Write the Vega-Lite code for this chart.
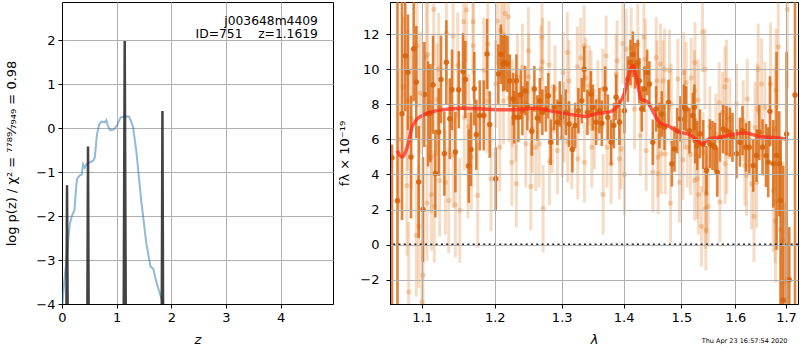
{
  "$schema": "https://vega.github.io/schema/vega-lite/v6.json",
  "background": "white",
  "padding": {"left": 5, "top": 1, "right": 1, "bottom": 0},
  "spacing": 4,
  "title": {"text": "Thu Apr 23 16:57:54 2020", "orient": "bottom", "anchor": "end", "fontSize": 6.5, "fontWeight": "normal", "font": "DejaVu Sans", "color": "black", "offset": -9, "dx": -12},
  "config": {
    "font": "DejaVu Sans",
    "view": {"stroke": "black", "strokeWidth": 1},
    "axis": {"grid": true, "gridColor": "#b0b0b0", "gridWidth": 1, "domainColor": "black", "tickColor": "black", "tickSize": 4, "tickWidth": 1, "labelFontSize": 13, "labelColor": "black", "labelFont": "DejaVu Sans", "labelPadding": 3, "titleFontSize": 13, "titleFontWeight": "normal", "titleColor": "black", "titleFont": "DejaVu Sans", "labelFlush": false, "labelOverlap": false}
  },
  "datasets": {
    "pz": [
      {"z": 0.0, "p": -4.1}, {"z": 0.007, "p": -4.0}, {"z": 0.04, "p": -3.5}, {"z": 0.08, "p": -3.02}, {"z": 0.11, "p": -2.6}, {"z": 0.14, "p": -2.2}, {"z": 0.18, "p": -2.0}, {"z": 0.23, "p": -1.86}, {"z": 0.255, "p": -1.4}, {"z": 0.275, "p": -1.16}, {"z": 0.32, "p": -1.08}, {"z": 0.36, "p": -1.06}, {"z": 0.385, "p": -0.82}, {"z": 0.415, "p": -0.9}, {"z": 0.447, "p": -0.82}, {"z": 0.507, "p": -0.78}, {"z": 0.57, "p": -0.74}, {"z": 0.6, "p": -0.67}, {"z": 0.64, "p": -0.14}, {"z": 0.68, "p": 0.08}, {"z": 0.72, "p": 0.15}, {"z": 0.78, "p": 0.13}, {"z": 0.81, "p": 0.18}, {"z": 0.84, "p": 0.05}, {"z": 0.886, "p": -0.05}, {"z": 0.95, "p": -0.03}, {"z": 1.01, "p": 0.07}, {"z": 1.07, "p": 0.24}, {"z": 1.15, "p": 0.27}, {"z": 1.23, "p": 0.26}, {"z": 1.3, "p": 0.03}, {"z": 1.36, "p": -0.52}, {"z": 1.45, "p": -1.65}, {"z": 1.545, "p": -2.64}, {"z": 1.62, "p": -3.15}, {"z": 1.67, "p": -3.2}, {"z": 1.73, "p": -3.51}, {"z": 1.85, "p": -4.0}, {"z": 1.9, "p": -4.3}
    ],
    "spikes": [
      {"z": 0.0, "p": -4.6}, {"z": 0.079, "p": -4.6}, {"z": 0.092, "p": -1.3}, {"z": 0.105, "p": -4.6}, {"z": 0.463, "p": -4.6}, {"z": 0.476, "p": -0.42}, {"z": 0.489, "p": -4.6}, {"z": 1.128, "p": -4.6}, {"z": 1.148, "p": 1.98}, {"z": 1.168, "p": -4.6}, {"z": 1.825, "p": -4.6}, {"z": 1.838, "p": 0.39}, {"z": 1.851, "p": -4.6}, {"z": 4.96, "p": -4.6}
    ],
    "model": [
      {"l": 1.0679, "f": 5.35}, {"l": 1.0740, "f": 4.99}, {"l": 1.0808, "f": 5.56}, {"l": 1.0870, "f": 6.70}, {"l": 1.0935, "f": 7.16}, {"l": 1.1000, "f": 7.35}, {"l": 1.1106, "f": 7.54}, {"l": 1.1270, "f": 7.69}, {"l": 1.1544, "f": 7.78}, {"l": 1.1965, "f": 7.71}, {"l": 1.2255, "f": 7.69}, {"l": 1.2603, "f": 7.78}, {"l": 1.2856, "f": 7.60}, {"l": 1.3167, "f": 7.41}, {"l": 1.3380, "f": 7.31}, {"l": 1.3541, "f": 7.46}, {"l": 1.3758, "f": 7.56}, {"l": 1.3924, "f": 8.03}, {"l": 1.4008, "f": 8.6}, {"l": 1.4092, "f": 9.74}, {"l": 1.4148, "f": 10.2}, {"l": 1.4222, "f": 9.46}, {"l": 1.4290, "f": 8.32}, {"l": 1.4404, "f": 8.13}, {"l": 1.4490, "f": 7.65}, {"l": 1.4607, "f": 6.99}, {"l": 1.4783, "f": 6.74}, {"l": 1.4961, "f": 6.42}, {"l": 1.5141, "f": 6.28}, {"l": 1.5292, "f": 5.94}, {"l": 1.5384, "f": 5.72}, {"l": 1.5507, "f": 6.04}, {"l": 1.5694, "f": 6.10}, {"l": 1.5946, "f": 6.28}, {"l": 1.6204, "f": 6.36}, {"l": 1.6464, "f": 6.17}, {"l": 1.6796, "f": 6.10}, {"l": 1.7032, "f": 6.02}
    ],
    "dark": [
      {"l": 1.0612, "f": 4.95, "lo": -5, "hi": 5.7}, {"l": 1.0682, "f": 2.5, "lo": -5, "hi": 15}, {"l": 1.0740, "f": 7.46, "lo": 1.4, "hi": 15}, {"l": 1.0782, "f": 10.77, "lo": 7.6, "hi": 14.2}, {"l": 1.0817, "f": 9.83, "lo": 6.53, "hi": 13.13}, {"l": 1.0856, "f": 5.0, "lo": 1.5, "hi": 8.5}, {"l": 1.0891, "f": 11.17, "lo": 8.17, "hi": 14.17}, {"l": 1.0925, "f": 9.27, "lo": 6.07, "hi": 12.47}, {"l": 1.0957, "f": 3.57, "lo": 0.37, "hi": 6.77}, {"l": 1.1013, "f": 2.0, "lo": -1.0, "hi": 5.0},
      {"l": 1.1031, "f": 8.56, "lo": 5.56, "hi": 11.56}, {"l": 1.1080, "f": 7.46, "lo": 4.46, "hi": 10.46}, {"l": 1.1111, "f": 7.5, "lo": 4.7, "hi": 10.3}, {"l": 1.1146, "f": 9.12, "lo": 6.32, "hi": 11.92}, {"l": 1.1177, "f": 4.05, "lo": 1.55, "hi": 6.55}, {"l": 1.1222, "f": 6.42, "lo": 3.92, "hi": 8.92}, {"l": 1.1253, "f": 9.42, "lo": 6.92, "hi": 11.92}, {"l": 1.1298, "f": 5.19, "lo": 2.79, "hi": 7.59}, {"l": 1.1325, "f": 10.4, "lo": 8.0, "hi": 12.8}, {"l": 1.1371, "f": 7.18, "lo": 4.88, "hi": 9.48},
      {"l": 1.1402, "f": 8.83, "lo": 6.53, "hi": 11.13}, {"l": 1.1448, "f": 5.28, "lo": 2.98, "hi": 7.58}, {"l": 1.1494, "f": 8.83, "lo": 6.63, "hi": 11.03}, {"l": 1.1553, "f": 9.87, "lo": 7.67, "hi": 12.07}, {"l": 1.1585, "f": 9.42, "lo": 7.22, "hi": 11.62}, {"l": 1.1632, "f": 4.48, "lo": 2.38, "hi": 6.58}, {"l": 1.1664, "f": 5.43, "lo": 3.33, "hi": 7.53}, {"l": 1.1710, "f": 8.89, "lo": 6.79, "hi": 10.99}, {"l": 1.1738, "f": 6.27, "lo": 4.27, "hi": 8.27}, {"l": 1.1786, "f": 7.37, "lo": 5.37, "hi": 9.37},
      {"l": 1.1843, "f": 7.37, "lo": 5.37, "hi": 9.37}, {"l": 1.1890, "f": 10.88, "lo": 8.88, "hi": 12.88}, {"l": 1.1928, "f": 6.85, "lo": 4.95, "hi": 8.75}, {"l": 1.2014, "f": 3.75, "lo": 1.95, "hi": 5.55}, {"l": 1.2052, "f": 9.73, "lo": 8.03, "hi": 11.43}, {"l": 1.2087, "f": 10.86, "lo": 9.16, "hi": 12.56}, {"l": 1.2120, "f": 10.33, "lo": 8.73, "hi": 11.93}, {"l": 1.2149, "f": 10.39, "lo": 8.79, "hi": 11.99}, {"l": 1.2183, "f": 10.3, "lo": 8.7, "hi": 11.9}, {"l": 1.2217, "f": 9.35, "lo": 7.85, "hi": 10.85},
      {"l": 1.2266, "f": 8.3, "lo": 6.8, "hi": 9.8}, {"l": 1.2281, "f": 7.26, "lo": 5.76, "hi": 8.76}, {"l": 1.2314, "f": 9.35, "lo": 7.85, "hi": 10.85}, {"l": 1.2344, "f": 7.26, "lo": 5.86, "hi": 8.66}, {"l": 1.2379, "f": 8.55, "lo": 7.15, "hi": 9.95}, {"l": 1.2403, "f": 7.64, "lo": 6.24, "hi": 9.04}, {"l": 1.2443, "f": 8.78, "lo": 7.38, "hi": 10.18}, {"l": 1.2477, "f": 7.92, "lo": 6.52, "hi": 9.32}, {"l": 1.2543, "f": 6.47, "lo": 5.07, "hi": 7.87}, {"l": 1.2582, "f": 8.88, "lo": 7.58, "hi": 10.18},
      {"l": 1.2627, "f": 7.22, "lo": 5.92, "hi": 8.52}, {"l": 1.2664, "f": 8.21, "lo": 6.91, "hi": 9.51}, {"l": 1.2703, "f": 7.55, "lo": 6.25, "hi": 8.85}, {"l": 1.2755, "f": 7.74, "lo": 6.44, "hi": 9.04}, {"l": 1.2794, "f": 8.49, "lo": 7.19, "hi": 9.79}, {"l": 1.2831, "f": 5.84, "lo": 4.54, "hi": 7.14}, {"l": 1.2882, "f": 7.83, "lo": 6.53, "hi": 9.13}, {"l": 1.2933, "f": 6.98, "lo": 5.68, "hi": 8.28}, {"l": 1.2970, "f": 8.02, "lo": 6.72, "hi": 9.32}, {"l": 1.3001, "f": 7.26, "lo": 5.96, "hi": 8.56},
      {"l": 1.3064, "f": 7.55, "lo": 6.25, "hi": 8.85}, {"l": 1.3115, "f": 6.88, "lo": 5.58, "hi": 8.18}, {"l": 1.3167, "f": 5.42, "lo": 4.12, "hi": 6.72}, {"l": 1.3210, "f": 6.79, "lo": 5.49, "hi": 8.09}, {"l": 1.3262, "f": 7.64, "lo": 6.34, "hi": 8.94}, {"l": 1.3316, "f": 8.21, "lo": 6.91, "hi": 9.51}, {"l": 1.3353, "f": 10.01, "lo": 8.71, "hi": 11.31}, {"l": 1.3406, "f": 7.55, "lo": 6.25, "hi": 8.85}, {"l": 1.3461, "f": 8.59, "lo": 7.29, "hi": 9.89}, {"l": 1.3493, "f": 7.83, "lo": 6.53, "hi": 9.13},
      {"l": 1.3546, "f": 6.98, "lo": 5.68, "hi": 8.28}, {"l": 1.3600, "f": 7.64, "lo": 6.34, "hi": 8.94}, {"l": 1.3639, "f": 6.92, "lo": 5.62, "hi": 8.22}, {"l": 1.3693, "f": 8.87, "lo": 7.57, "hi": 10.17}, {"l": 1.3737, "f": 7.26, "lo": 5.96, "hi": 8.56}, {"l": 1.3791, "f": 5.84, "lo": 4.54, "hi": 7.14}, {"l": 1.3836, "f": 6.79, "lo": 5.49, "hi": 8.09}, {"l": 1.3874, "f": 8.4, "lo": 7.1, "hi": 9.7}, {"l": 1.3929, "f": 6.98, "lo": 5.68, "hi": 8.28}, {"l": 1.4013, "f": 7.64, "lo": 6.34, "hi": 8.94},
      {"l": 1.4070, "f": 9.44, "lo": 8.14, "hi": 10.74}, {"l": 1.4114, "f": 10.39, "lo": 9.09, "hi": 11.69}, {"l": 1.4155, "f": 10.86, "lo": 9.56, "hi": 12.16}, {"l": 1.4193, "f": 10.2, "lo": 8.9, "hi": 11.5}, {"l": 1.4239, "f": 10.39, "lo": 9.09, "hi": 11.69}, {"l": 1.4266, "f": 9.35, "lo": 8.05, "hi": 10.65}, {"l": 1.4307, "f": 7.74, "lo": 6.44, "hi": 9.04}, {"l": 1.4352, "f": 8.87, "lo": 7.57, "hi": 10.17}, {"l": 1.4399, "f": 9.82, "lo": 8.52, "hi": 11.12}, {"l": 1.4438, "f": 9.16, "lo": 7.86, "hi": 10.46},
      {"l": 1.4497, "f": 5.84, "lo": 4.54, "hi": 7.14}, {"l": 1.4555, "f": 7.74, "lo": 6.44, "hi": 9.04}, {"l": 1.4612, "f": 6.79, "lo": 5.49, "hi": 8.09}, {"l": 1.4654, "f": 7.45, "lo": 6.15, "hi": 8.75}, {"l": 1.4700, "f": 6.69, "lo": 5.39, "hi": 7.99}, {"l": 1.4771, "f": 8.11, "lo": 6.81, "hi": 9.41}, {"l": 1.4831, "f": 4.61, "lo": 3.31, "hi": 5.91}, {"l": 1.4877, "f": 5.46, "lo": 4.16, "hi": 6.76}, {"l": 1.4925, "f": 6.5, "lo": 5.2, "hi": 7.8}, {"l": 1.4984, "f": 7.17, "lo": 5.87, "hi": 8.47},
      {"l": 1.5045, "f": 7.83, "lo": 6.53, "hi": 9.13}, {"l": 1.5087, "f": 7.74, "lo": 6.44, "hi": 9.04}, {"l": 1.5146, "f": 6.5, "lo": 5.2, "hi": 7.8}, {"l": 1.5208, "f": 7.36, "lo": 6.06, "hi": 8.66}, {"l": 1.5236, "f": 7.83, "lo": 6.53, "hi": 9.13}, {"l": 1.5250, "f": 5.93, "lo": 4.63, "hi": 7.23}, {"l": 1.5287, "f": 5.65, "lo": 4.25, "hi": 7.05}, {"l": 1.5336, "f": 6.32, "lo": 4.92, "hi": 7.72}, {"l": 1.5397, "f": 5.71, "lo": 4.31, "hi": 7.11}, {"l": 1.5457, "f": 4.23, "lo": 2.83, "hi": 5.63},
      {"l": 1.5520, "f": 5.75, "lo": 4.35, "hi": 7.15}, {"l": 1.5569, "f": 5.65, "lo": 4.25, "hi": 7.05}, {"l": 1.5614, "f": 5.55, "lo": 4.15, "hi": 6.95}, {"l": 1.5657, "f": 4.13, "lo": 2.73, "hi": 5.53}, {"l": 1.5707, "f": 6.12, "lo": 4.72, "hi": 7.52}, {"l": 1.5770, "f": 6.6, "lo": 5.2, "hi": 8.0}, {"l": 1.5832, "f": 6.5, "lo": 5.1, "hi": 7.9}, {"l": 1.5896, "f": 6.41, "lo": 5.01, "hi": 7.81}, {"l": 1.5946, "f": 6.12, "lo": 4.72, "hi": 7.52}, {"l": 1.6022, "f": 5.18, "lo": 3.78, "hi": 6.58},
      {"l": 1.6088, "f": 5.84, "lo": 4.44, "hi": 7.24}, {"l": 1.6138, "f": 6.5, "lo": 5.1, "hi": 7.9}, {"l": 1.6204, "f": 5.55, "lo": 4.15, "hi": 6.95}, {"l": 1.6268, "f": 5.55, "lo": 4.05, "hi": 7.05}, {"l": 1.6346, "f": 4.51, "lo": 3.01, "hi": 6.01}, {"l": 1.6411, "f": 5.08, "lo": 3.58, "hi": 6.58}, {"l": 1.6464, "f": 6.41, "lo": 4.81, "hi": 8.01}, {"l": 1.6529, "f": 5.55, "lo": 3.95, "hi": 7.15}, {"l": 1.6597, "f": 5.08, "lo": 3.28, "hi": 6.88}, {"l": 1.6642, "f": 4.7, "lo": 2.7, "hi": 6.7},
      {"l": 1.6676, "f": 7.6, "lo": 5.6, "hi": 9.6}, {"l": 1.6743, "f": 4.61, "lo": 2.11, "hi": 7.11}, {"l": 1.6809, "f": 5.08, "lo": -0.3, "hi": 11}, {"l": 1.6863, "f": 4.61, "lo": 1.61, "hi": 7.61}, {"l": 1.6890, "f": 2.52, "lo": -4, "hi": 6}, {"l": 1.6944, "f": -3.17, "lo": -6, "hi": 4.5}, {"l": 1.7011, "f": 6.31, "lo": -4, "hi": 11}, {"l": 1.7066, "f": -2, "lo": -5, "hi": 1.0}, {"l": 1.7183, "f": 8.53, "lo": -5, "hi": 15}
    ],
    "light": [
      {"l": 1.0701, "f": 6.0, "lo": 2, "hi": 10}, {"l": 1.0753, "f": 9.0, "lo": 5, "hi": 13}, {"l": 1.0804, "f": 3.37, "lo": -0.63, "hi": 7.37}, {"l": 1.0813, "f": 8.21, "lo": 4.21, "hi": 12.21}, {"l": 1.0826, "f": -2.71, "lo": -6.71, "hi": 1.29}, {"l": 1.0862, "f": 7.2, "lo": 3.2, "hi": 11.2}, {"l": 1.0925, "f": 0.53, "lo": -2.97, "hi": 4.03}, {"l": 1.0934, "f": 11.34, "lo": 7.84, "hi": 14.84}, {"l": 1.0957, "f": 1.04, "lo": -2.46, "hi": 4.54}, {"l": 1.0979, "f": 8.65, "lo": 5.15, "hi": 12.15},
      {"l": 1.1000, "f": -3.26, "lo": -6.76, "hi": 0.24}, {"l": 1.1013, "f": -1.74, "lo": -5.24, "hi": 1.76}, {"l": 1.1057, "f": 10.7, "lo": 7.4, "hi": 14.0}, {"l": 1.1066, "f": 2.37, "lo": -0.93, "hi": 5.67}, {"l": 1.1075, "f": 10.86, "lo": 7.56, "hi": 14.16}, {"l": 1.1120, "f": 4.99, "lo": 1.79, "hi": 8.19}, {"l": 1.1125, "f": 2.86, "lo": -0.34, "hi": 6.06}, {"l": 1.1155, "f": 13.42, "lo": 10.22, "hi": 16.62}, {"l": 1.1163, "f": 2.18, "lo": -1.02, "hi": 5.38}, {"l": 1.1199, "f": 8.27, "lo": 5.07, "hi": 11.47},
      {"l": 1.1222, "f": 10.01, "lo": 6.81, "hi": 13.21}, {"l": 1.1235, "f": 3.66, "lo": 0.46, "hi": 6.86}, {"l": 1.1311, "f": 3.56, "lo": 0.56, "hi": 6.56}, {"l": 1.1325, "f": 12.1, "lo": 9.1, "hi": 15.1}, {"l": 1.1357, "f": 2.52, "lo": -0.48, "hi": 5.52}, {"l": 1.1416, "f": 11.91, "lo": 8.91, "hi": 14.91}, {"l": 1.1420, "f": 5.08, "lo": 2.08, "hi": 8.08}, {"l": 1.1448, "f": 2.27, "lo": -0.73, "hi": 5.27}, {"l": 1.1480, "f": 10.24, "lo": 7.24, "hi": 13.24}, {"l": 1.1508, "f": 1.95, "lo": -1.05, "hi": 4.95},
      {"l": 1.1563, "f": 12.72, "lo": 9.72, "hi": 15.72}, {"l": 1.1571, "f": 7.26, "lo": 4.26, "hi": 10.26}, {"l": 1.1599, "f": 13.39, "lo": 10.39, "hi": 16.39}, {"l": 1.1622, "f": 4.51, "lo": 1.51, "hi": 7.51}, {"l": 1.1632, "f": 6.73, "lo": 3.73, "hi": 9.73}, {"l": 1.1668, "f": 4.99, "lo": 1.99, "hi": 7.99}, {"l": 1.1692, "f": 12.72, "lo": 9.72, "hi": 15.72}, {"l": 1.1696, "f": 11.34, "lo": 8.34, "hi": 14.34}, {"l": 1.1758, "f": 2.81, "lo": -0.19, "hi": 5.81}, {"l": 1.1843, "f": 9.95, "lo": 6.95, "hi": 12.95},
      {"l": 1.1890, "f": 8.21, "lo": 5.21, "hi": 11.21}, {"l": 1.1900, "f": 11.43, "lo": 8.43, "hi": 14.43}, {"l": 1.1947, "f": 3.75, "lo": 0.75, "hi": 6.75}, {"l": 1.2014, "f": 9.16, "lo": 6.66, "hi": 11.66}, {"l": 1.2038, "f": 12.76, "lo": 10.26, "hi": 15.26}, {"l": 1.2072, "f": 5.55, "lo": 3.05, "hi": 8.05}, {"l": 1.2087, "f": 12.23, "lo": 9.73, "hi": 14.73}, {"l": 1.2120, "f": 12.0, "lo": 9.5, "hi": 14.5}, {"l": 1.2125, "f": 8.21, "lo": 5.71, "hi": 10.71}, {"l": 1.2149, "f": 13.18, "lo": 10.68, "hi": 15.68},
      {"l": 1.2197, "f": 12.99, "lo": 10.49, "hi": 15.49}, {"l": 1.2207, "f": 8.36, "lo": 5.86, "hi": 10.86}, {"l": 1.2247, "f": 4.7, "lo": 2.2, "hi": 7.2}, {"l": 1.2256, "f": 8.06, "lo": 5.56, "hi": 10.56}, {"l": 1.2306, "f": 7.26, "lo": 4.76, "hi": 9.76}, {"l": 1.2314, "f": 3.47, "lo": 0.97, "hi": 5.97}, {"l": 1.2329, "f": 9.54, "lo": 7.04, "hi": 12.04}, {"l": 1.2403, "f": 10.11, "lo": 7.61, "hi": 12.61}, {"l": 1.2453, "f": 5.75, "lo": 3.25, "hi": 8.25}, {"l": 1.2492, "f": 11.05, "lo": 8.55, "hi": 13.55},
      {"l": 1.2497, "f": 9.57, "lo": 7.07, "hi": 12.07}, {"l": 1.2528, "f": 3.32, "lo": 0.82, "hi": 5.82}, {"l": 1.2552, "f": 6.6, "lo": 4.1, "hi": 9.1}, {"l": 1.2603, "f": 5.55, "lo": 3.05, "hi": 8.05}, {"l": 1.2653, "f": 5.75, "lo": 3.25, "hi": 8.25}, {"l": 1.2679, "f": 10.01, "lo": 7.51, "hi": 12.51}, {"l": 1.2698, "f": 11.85, "lo": 9.35, "hi": 14.35}, {"l": 1.2706, "f": 10.43, "lo": 7.93, "hi": 12.93}, {"l": 1.2714, "f": 2.05, "lo": -0.45, "hi": 4.55}, {"l": 1.2805, "f": 10.26, "lo": 7.76, "hi": 12.76},
      {"l": 1.2812, "f": 4.76, "lo": 2.26, "hi": 7.26}, {"l": 1.2856, "f": 6.6, "lo": 4.1, "hi": 9.1}, {"l": 1.2897, "f": 8.87, "lo": 6.37, "hi": 11.37}, {"l": 1.2933, "f": 5.37, "lo": 2.87, "hi": 7.87}, {"l": 1.3011, "f": 6.12, "lo": 3.82, "hi": 8.42}, {"l": 1.3021, "f": 9.82, "lo": 7.52, "hi": 12.12}, {"l": 1.3037, "f": 6.98, "lo": 4.68, "hi": 9.28}, {"l": 1.3088, "f": 10.96, "lo": 8.66, "hi": 13.26}, {"l": 1.3094, "f": 5.84, "lo": 3.54, "hi": 8.14}, {"l": 1.3115, "f": 9.35, "lo": 7.05, "hi": 11.65},
      {"l": 1.3158, "f": 5.46, "lo": 3.16, "hi": 7.76}, {"l": 1.3246, "f": 10.14, "lo": 7.84, "hi": 12.44}, {"l": 1.3252, "f": 4.89, "lo": 2.59, "hi": 7.19}, {"l": 1.3300, "f": 10.64, "lo": 8.34, "hi": 12.94}, {"l": 1.3353, "f": 11.34, "lo": 9.04, "hi": 13.64}, {"l": 1.3358, "f": 4.7, "lo": 2.4, "hi": 7.0}, {"l": 1.3380, "f": 9.5, "lo": 7.2, "hi": 11.8}, {"l": 1.3433, "f": 9.06, "lo": 6.76, "hi": 11.36}, {"l": 1.3465, "f": 8.78, "lo": 6.48, "hi": 11.08}, {"l": 1.3477, "f": 5.55, "lo": 3.25, "hi": 7.85},
      {"l": 1.3519, "f": 6.6, "lo": 4.3, "hi": 8.9}, {"l": 1.3574, "f": 8.21, "lo": 5.91, "hi": 10.51}, {"l": 1.3655, "f": 8.87, "lo": 6.57, "hi": 11.17}, {"l": 1.3660, "f": 2.86, "lo": 0.56, "hi": 5.16}, {"l": 1.3709, "f": 10.77, "lo": 8.47, "hi": 13.07}, {"l": 1.3725, "f": 5.55, "lo": 3.25, "hi": 7.85}, {"l": 1.3791, "f": 4.61, "lo": 2.31, "hi": 6.91}, {"l": 1.3874, "f": 9.73, "lo": 7.43, "hi": 12.03}, {"l": 1.3891, "f": 10.49, "lo": 8.19, "hi": 12.79}, {"l": 1.3929, "f": 4.89, "lo": 2.59, "hi": 7.19},
      {"l": 1.3957, "f": 5.46, "lo": 3.16, "hi": 7.76}, {"l": 1.3986, "f": 11.47, "lo": 9.17, "hi": 13.77}, {"l": 1.4013, "f": 4.0, "lo": 1.7, "hi": 6.3}, {"l": 1.4041, "f": 11.15, "lo": 8.85, "hi": 13.45}, {"l": 1.4126, "f": 11.24, "lo": 8.94, "hi": 13.54}, {"l": 1.4182, "f": 7.74, "lo": 5.44, "hi": 10.04}, {"l": 1.4239, "f": 11.43, "lo": 9.13, "hi": 13.73}, {"l": 1.4283, "f": 6.22, "lo": 3.92, "hi": 8.52}, {"l": 1.4341, "f": 11.85, "lo": 9.55, "hi": 14.15}, {"l": 1.4369, "f": 10.58, "lo": 8.28, "hi": 12.88},
      {"l": 1.4381, "f": 5.37, "lo": 3.07, "hi": 7.67}, {"l": 1.4497, "f": 4.13, "lo": 1.83, "hi": 6.43}, {"l": 1.4555, "f": 10.67, "lo": 8.37, "hi": 12.97}, {"l": 1.4572, "f": 9.35, "lo": 7.05, "hi": 11.65}, {"l": 1.4584, "f": 4.99, "lo": 2.69, "hi": 7.29}, {"l": 1.4590, "f": 4.04, "lo": 1.74, "hi": 6.34}, {"l": 1.4630, "f": 10.3, "lo": 8.0, "hi": 12.6}, {"l": 1.4642, "f": 5.18, "lo": 2.88, "hi": 7.48}, {"l": 1.4672, "f": 9.35, "lo": 7.05, "hi": 11.65}, {"l": 1.4700, "f": 10.01, "lo": 7.71, "hi": 12.31},
      {"l": 1.4713, "f": 5.18, "lo": 2.88, "hi": 7.48}, {"l": 1.4788, "f": 9.95, "lo": 7.65, "hi": 12.25}, {"l": 1.4806, "f": 2.37, "lo": 0.07, "hi": 4.67}, {"l": 1.4818, "f": 8.02, "lo": 5.72, "hi": 10.32}, {"l": 1.4938, "f": 9.44, "lo": 7.14, "hi": 11.74}, {"l": 1.4966, "f": 3.56, "lo": 1.26, "hi": 5.86}, {"l": 1.5027, "f": 4.83, "lo": 2.53, "hi": 7.13}, {"l": 1.5045, "f": 9.82, "lo": 7.52, "hi": 12.12}, {"l": 1.5056, "f": 7.74, "lo": 5.44, "hi": 10.04}, {"l": 1.5087, "f": 9.25, "lo": 6.95, "hi": 11.55},
      {"l": 1.5105, "f": 5.55, "lo": 3.25, "hi": 7.85}, {"l": 1.5164, "f": 5.14, "lo": 2.84, "hi": 7.44}, {"l": 1.5177, "f": 9.5, "lo": 7.2, "hi": 11.8}, {"l": 1.5237, "f": 8.78, "lo": 6.48, "hi": 11.08}, {"l": 1.5241, "f": 3.66, "lo": 1.36, "hi": 5.96}, {"l": 1.5246, "f": 10.39, "lo": 8.09, "hi": 12.69}, {"l": 1.5287, "f": 3.75, "lo": 1.45, "hi": 6.05}, {"l": 1.5305, "f": 8.25, "lo": 5.95, "hi": 10.55}, {"l": 1.5309, "f": 2.86, "lo": 0.56, "hi": 5.16}, {"l": 1.5365, "f": 1.04, "lo": -1.26, "hi": 3.34},
      {"l": 1.5384, "f": 12.13, "lo": 9.83, "hi": 14.43}, {"l": 1.5397, "f": 5.27, "lo": 2.97, "hi": 7.57}, {"l": 1.5428, "f": 10.01, "lo": 7.71, "hi": 12.31}, {"l": 1.5432, "f": 2.05, "lo": -0.25, "hi": 4.35}, {"l": 1.5446, "f": 0.82, "lo": -1.48, "hi": 3.12}, {"l": 1.5457, "f": 2.9, "lo": 0.6, "hi": 5.2}, {"l": 1.5488, "f": 2.18, "lo": -0.12, "hi": 4.48}, {"l": 1.5520, "f": 6.73, "lo": 4.43, "hi": 9.03}, {"l": 1.5632, "f": 6.31, "lo": 4.01, "hi": 8.61}, {"l": 1.5694, "f": 8.11, "lo": 5.81, "hi": 10.41},
      {"l": 1.5707, "f": 2.43, "lo": 0.13, "hi": 4.73}, {"l": 1.5757, "f": 7.55, "lo": 5.25, "hi": 9.85}, {"l": 1.5802, "f": 9.0, "lo": 6.7, "hi": 11.3}, {"l": 1.5806, "f": 4.61, "lo": 2.31, "hi": 6.91}, {"l": 1.5832, "f": 9.39, "lo": 7.09, "hi": 11.69}, {"l": 1.5838, "f": 5.18, "lo": 2.88, "hi": 7.48}, {"l": 1.5896, "f": 7.17, "lo": 4.87, "hi": 9.47}, {"l": 1.6022, "f": 8.02, "lo": 5.72, "hi": 10.32}, {"l": 1.6151, "f": 7.07, "lo": 4.77, "hi": 9.37}, {"l": 1.6184, "f": 4.51, "lo": 2.21, "hi": 6.81},
      {"l": 1.6215, "f": 3.94, "lo": 1.64, "hi": 6.24}, {"l": 1.6229, "f": 8.3, "lo": 6.0, "hi": 10.6}, {"l": 1.6313, "f": 3.47, "lo": 0.87, "hi": 6.07}, {"l": 1.6360, "f": 1.61, "lo": -0.99, "hi": 4.21}, {"l": 1.6380, "f": 6.69, "lo": 4.09, "hi": 9.29}, {"l": 1.6411, "f": 3.56, "lo": 0.96, "hi": 6.16}, {"l": 1.6425, "f": 7.74, "lo": 5.14, "hi": 10.34}, {"l": 1.6444, "f": 10.01, "lo": 7.41, "hi": 12.61}, {"l": 1.6510, "f": 9.16, "lo": 6.56, "hi": 11.76}, {"l": 1.6577, "f": 7.83, "lo": 5.23, "hi": 10.43},
      {"l": 1.6688, "f": 9.16, "lo": 5.66, "hi": 12.66}, {"l": 1.6743, "f": 3.09, "lo": -0.41, "hi": 6.59}, {"l": 1.6777, "f": 6.6, "lo": 3.1, "hi": 10.1}, {"l": 1.6781, "f": 2.43, "lo": -1.07, "hi": 5.93}, {"l": 1.6785, "f": 1.34, "lo": -2.16, "hi": 4.84}, {"l": 1.6797, "f": 8.82, "lo": 5.32, "hi": 12.32}, {"l": 1.6843, "f": 11.28, "lo": 7.78, "hi": 14.78}, {"l": 1.6890, "f": 0.85, "lo": -3.65, "hi": 5.35}, {"l": 1.6930, "f": 0.25, "lo": -4.25, "hi": 4.75}, {"l": 1.6979, "f": -2.12, "lo": -6.62, "hi": 2.38},
      {"l": 1.7026, "f": 13.42, "lo": 8.92, "hi": 17.92}
    ]
  },
  "hconcat": [
    {
      "width": 271,
      "height": 302,
      "layer": [
        {
          "data": {"name": "pz"},
          "mark": {"type": "line", "color": "#1f77b4", "opacity": 0.5, "strokeWidth": 2, "clip": true},
          "encoding": {
            "x": {"field": "z", "type": "quantitative", "scale": {"domain": [0, 4.96], "nice": false, "zero": false}, "axis": {"values": [0, 1, 2, 3, 4], "title": "z", "titleFontStyle": "italic", "titlePadding": 9}},
            "y": {"field": "p", "type": "quantitative", "scale": {"domain": [-4, 2.87], "nice": false, "zero": false}, "axis": {"values": [-4, -3, -2, -1, 0, 1, 2], "title": "log p(z) / χ² = ⁷⁷⁸⁹⁄₇₉₄₉ = 0.98", "titlePadding": 17}}
          }
        },
        {
          "data": {"name": "spikes"},
          "mark": {"type": "line", "color": "#222222", "opacity": 0.85, "strokeWidth": 2.5, "clip": true},
          "encoding": {
            "x": {"field": "z", "type": "quantitative"},
            "y": {"field": "p", "type": "quantitative"}
          }
        },
        {
          "data": {"values": [{}]},
          "mark": {"type": "text", "align": "right", "baseline": "alphabetic", "fontSize": 12.3, "color": "black", "font": "DejaVu Sans"},
          "encoding": {"x": {"datum": 4.684}, "y": {"datum": 2.35}, "text": {"value": "j003648m4409"}}
        },
        {
          "data": {"values": [{}]},
          "mark": {"type": "text", "align": "right", "baseline": "alphabetic", "fontSize": 12.3, "color": "black", "font": "DejaVu Sans"},
          "encoding": {"x": {"datum": 4.684}, "y": {"datum": 2.05}, "text": {"value": "ID=751\u00a0\u00a0\u00a0\u00a0z=1.1619"}}
        }
      ]
    },
    {
      "width": 408,
      "height": 302,
      "layer": [
        {
          "data": {"name": "light"},
          "mark": {"type": "rule", "color": "#e07318", "opacity": 0.25, "strokeWidth": 3, "clip": true},
          "encoding": {
            "x": {"field": "l", "type": "quantitative", "scale": {"type": "log", "domain": [1.0587, 1.7245], "nice": false, "zero": false}, "axis": {"values": [1.1, 1.2, 1.3, 1.4, 1.5, 1.6, 1.7], "format": ".1f", "title": "λ", "titleFontStyle": "italic", "titlePadding": 9, "zindex": 1}},
            "y": {"field": "lo", "type": "quantitative", "scale": {"domain": [-3.39, 13.84], "nice": false, "zero": false}, "axis": {"values": [-2, 0, 2, 4, 6, 8, 10, 12], "title": "fλ × 10⁻¹⁹", "titlePadding": 8, "labelPadding": 7, "zindex": 1}},
            "y2": {"field": "hi"}
          }
        },
        {
          "data": {"name": "light"},
          "mark": {"type": "circle", "color": "#e07318", "opacity": 0.3, "size": 26, "clip": true},
          "encoding": {
            "x": {"field": "l", "type": "quantitative"},
            "y": {"field": "f", "type": "quantitative"}
          }
        },
        {
          "data": {"name": "dark"},
          "mark": {"type": "rule", "color": "#d8640a", "opacity": 0.8, "strokeWidth": 2.6, "clip": true},
          "encoding": {
            "x": {"field": "l", "type": "quantitative"},
            "y": {"field": "lo", "type": "quantitative"},
            "y2": {"field": "hi"}
          }
        },
        {
          "data": {"name": "dark"},
          "mark": {"type": "circle", "color": "#d8640a", "opacity": 0.9, "size": 30, "clip": true},
          "encoding": {
            "x": {"field": "l", "type": "quantitative"},
            "y": {"field": "f", "type": "quantitative"}
          }
        },
        {
          "data": {"values": [{}]},
          "mark": {"type": "rule", "color": "#222222", "strokeWidth": 2, "strokeDash": [2, 3.3]},
          "encoding": {"y": {"datum": 0}}
        },
        {
          "data": {"name": "model"},
          "mark": {"type": "line", "color": "#ff2a1a", "opacity": 0.75, "strokeWidth": 3.5, "interpolate": "monotone", "clip": true},
          "encoding": {
            "x": {"field": "l", "type": "quantitative"},
            "y": {"field": "f", "type": "quantitative"}
          }
        }
      ]
    }
  ]
}
